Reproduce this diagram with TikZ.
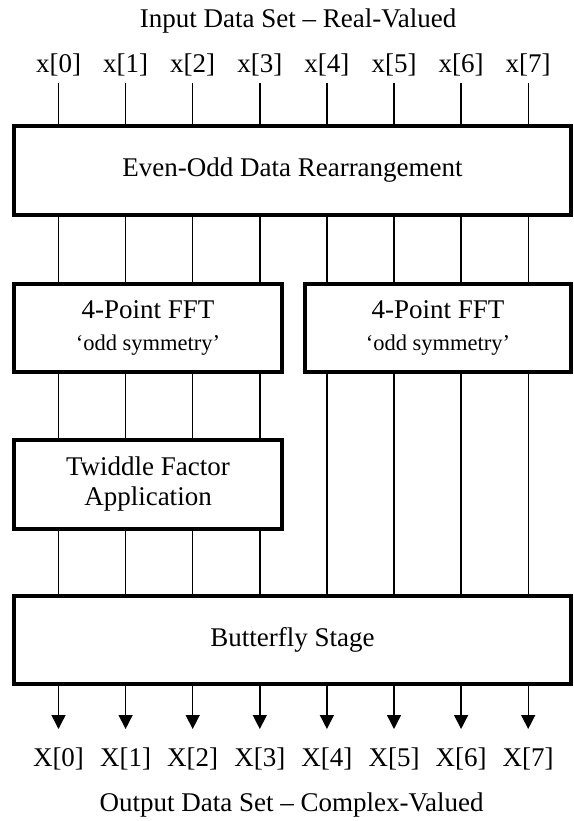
\documentclass[tikz,border=0pt]{standalone}
\usepackage{fontspec}
\setmainfont{Liberation Serif}
\usetikzlibrary{arrows.meta,calc}
\begin{document}
\begin{tikzpicture}[x=1pt,y=-1pt,
  big/.style={font=\fontsize{27}{30}\selectfont},
  blk/.style={draw, line width=4pt, rectangle, inner sep=0pt, align=center, big},
  wire/.style={line width=1.4pt},
  lbl/.style={big, inner sep=0pt, anchor=base},
  outarrow/.style={wire, -{Triangle[width=14pt,length=14pt]}}]
\useasboundingbox (0,0) rectangle (573,821);

% processing blocks
\node[blk, minimum width=557pt, minimum height=89pt] (rearr) at (292.5,170.5)
  {Even-Odd Data Rearrangement};
\node[blk, minimum width=268pt, minimum height=88pt] (fftA) at (148,328)
  {4-Point FFT\\[2pt]{\fontsize{22.5}{24}\selectfont ‘odd symmetry’}};
\node[blk, minimum width=266pt, minimum height=88pt] (fftB) at (438,328)
  {4-Point FFT\\[2pt]{\fontsize{22.5}{24}\selectfont ‘odd symmetry’}};
\node[blk, minimum width=268pt, minimum height=89pt] (twid) at (148,484.5)
  {Twiddle Factor\\Application};
\node[blk, minimum width=557pt, minimum height=88pt] (bfly) at (292.5,640)
  {Butterfly Stage};

% titles
\node[lbl] (intitle) at (298,27.3) {Input Data Set – Real-Valued};
\node[lbl] (outtitle) at (291.5,811.5) {Output Data Set – Complex-Valued};

% input / output lines
\foreach \i in {0,...,7} {
  \pgfmathsetmacro{\xx}{58.5+67.1*\i}
  \node[lbl] (xin\i) at (\xx,73) {x[\i]};
  \coordinate (in\i) at (\xx,83);
  \coordinate (out\i) at (\xx,729);
  \node[lbl] (xout\i) at (\xx,766) {X[\i]};
  \draw[wire] (in\i) -- (in\i |- rearr.north);
  \draw[outarrow] (in\i |- bfly.south) -- (out\i);
}
\foreach \i in {0,...,3} {
  \draw[wire] (in\i |- rearr.south) -- (in\i |- fftA.north);
  \draw[wire] (in\i |- fftA.south) -- (in\i |- twid.north);
  \draw[wire] (in\i |- twid.south) -- (in\i |- bfly.north);
}
\foreach \i in {4,...,7} {
  \draw[wire] (in\i |- rearr.south) -- (in\i |- fftB.north);
  \draw[wire] (in\i |- fftB.south) -- (in\i |- bfly.north);
}
\end{tikzpicture}
\end{document}
